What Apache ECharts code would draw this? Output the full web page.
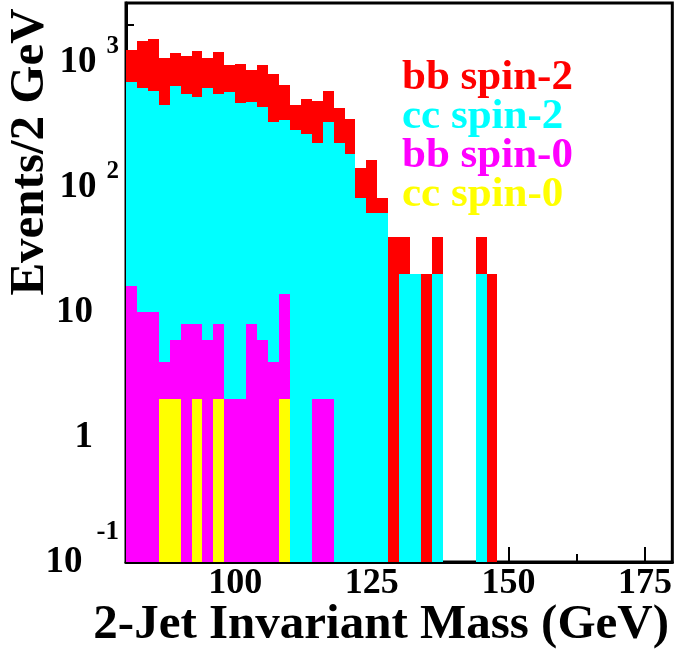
<!DOCTYPE html>
<html>
<head>
<meta charset="utf-8">
<title>2-Jet Invariant Mass</title>
<script src="https://cdn.jsdelivr.net/npm/echarts@6/dist/echarts.min.js"></script>
<style>
html, body { margin: 0; padding: 0; background: #fff; }
#main { width: 675px; height: 653px; }
</style>
</head>
<body>
<div id="main"></div>
<script>
// bins are 2 GeV wide starting at 80 GeV (50 bins up to 180)
var binStart = 80;
var binWidth = 2;

// heights of the drawn (stacked) histograms
// red = bb spin-2 on top of everything below it
var bbSpin2 = [1240, 1460, 1540, 1080, 1170, 1110, 1230, 1070, 1200, 940,
               970, 870, 940, 800, 650, 450, 510, 490, 590, 430,
               350, 143, 164, 82, 40, 40, 20, 20, 40, 0,
               0, 0, 40, 20, 0, 0, 0, 0, 0, 0,
               0, 0, 0, 0, 0, 0, 0, 0, 0, 0];
var ccSpin2 = [690, 624, 586, 456, 640, 559, 522, 620, 559, 575,
               473, 479, 437, 333, 342, 288, 267, 226, 330, 225,
               185, 82, 62, 62, 0, 20, 20, 0, 20, 0,
               0, 0, 20, 0, 0, 0, 0, 0, 0, 0,
               0, 0, 0, 0, 0, 0, 0, 0, 0, 0];
var bbSpin0 = [16, 10, 10, 4, 6, 8, 8, 6, 8, 2,
               2, 8, 6, 4, 14, 0, 0, 2, 2, 0,
               0, 0, 0, 0, 0, 0, 0, 0, 0, 0,
               0, 0, 0, 0, 0, 0, 0, 0, 0, 0,
               0, 0, 0, 0, 0, 0, 0, 0, 0, 0];
var ccSpin0 = [0, 0, 0, 2, 2, 0, 2, 0, 2, 0,
               0, 0, 0, 0, 2, 0, 0, 0, 0, 0,
               0, 0, 0, 0, 0, 0, 0, 0, 0, 0,
               0, 0, 0, 0, 0, 0, 0, 0, 0, 0,
               0, 0, 0, 0, 0, 0, 0, 0, 0, 0];

var seriesNames = ['bb spin-2', 'cc spin-2', 'bb spin-0', 'cc spin-0'];
var seriesColors = ['#ff0000', '#00ffff', '#ff00ff', '#ffff00'];

var xTicks = [100, 125, 150, 175];
var xMinorTicks = [87.5, 112.5, 137.5, 162.5];
var yDecades = [0.1, 1, 10, 100, 1000];
var yMinorTicks = [0.2, 0.3, 0.4, 0.5, 0.6, 0.7, 0.8, 0.9,
                   2, 3, 4, 5, 6, 7, 8, 9,
                   20, 30, 40, 50, 60, 70, 80, 90,
                   200, 300, 400, 500, 600, 700, 800, 900, 2000];

var yMin = 0.1;
var yMax = 2965;
var serif = '"Liberation Serif", "Times New Roman", serif';

function toBins(arr) {
    var out = [];
    arr.forEach(function (v, i) {
        if (v > 0) out.push([binStart + i * binWidth, binStart + (i + 1) * binWidth, v]);
    });
    return out;
}

function makeRender(color) {
    return function (params, api) {
        var top = api.coord([api.value(0), api.value(2)]);
        var bot = api.coord([api.value(1), yMin]);
        var x0 = Math.round(top[0]), x1 = Math.round(bot[0]);
        var y0 = Math.round(top[1]), y1 = Math.round(bot[1]);
        return {
            type: 'rect',
            shape: { x: x0, y: y0, width: x1 - x0, height: y1 - y0 },
            style: { fill: color }
        };
    };
}

var myChart = echarts.init(document.getElementById('main'));

var series = [bbSpin2, ccSpin2, bbSpin0, ccSpin0].map(function (arr, k) {
    return {
        name: seriesNames[k],
        type: 'custom',
        xAxisIndex: 0,
        yAxisIndex: 0,
        renderItem: makeRender(seriesColors[k]),
        encode: { x: [0, 1], y: 2 },
        data: toBins(arr),
        z: 2 + k
    };
});

var legendTexts = seriesNames.map(function (name, k) {
    return {
        type: 'text',
        left: 402,
        top: 56 + k * 39,
        z: 100,
        style: {
            text: name,
            fill: seriesColors[k],
            font: 'bold 43px ' + serif
        }
    };
});

var option = {
    animation: false,
    backgroundColor: '#fff',
    grid: {
        left: 126, right: 2, top: 3, bottom: 91,
        show: true, borderColor: '#000', borderWidth: 3
    },
    xAxis: [{
        type: 'value', min: 80, max: 180,
        axisLine: { lineStyle: { color: '#000', width: 3 } },
        axisTick: { inside: true, length: 15, customValues: xTicks, lineStyle: { color: '#000', width: 2 } },
        axisLabel: {
            customValues: xTicks, margin: 4,
            color: '#000', fontFamily: serif, fontWeight: 'bold', fontSize: 36
        },
        splitLine: { show: false }
    }, {
        type: 'value', min: 80, max: 180, position: 'bottom',
        axisLine: { show: false },
        axisTick: { inside: true, length: 8, customValues: xMinorTicks, lineStyle: { color: '#000', width: 2 } },
        axisLabel: { show: false },
        splitLine: { show: false }
    }],
    yAxis: [{
        type: 'log', logBase: 10, min: yMin, max: yMax,
        axisLine: { lineStyle: { color: '#000', width: 3 } },
        axisTick: { inside: true, length: 15, customValues: yDecades, lineStyle: { color: '#000', width: 2 } },
        axisLabel: {
            customValues: yDecades, margin: 7,
            formatter: function (v) {
                var e = Math.round(Math.log(v) / Math.LN10);
                if (e === 0) return '{b|1}{p| }';
                if (e === 1) return '{b|10}{p| }';
                if (e < 0) return '{b|10}{n|' + e + '}';
                return '{b|10}{s|' + e + '}';
            },
            rich: {
                b: { fontFamily: serif, fontWeight: 'bold', fontSize: 37, color: '#000' },
                s: { fontFamily: serif, fontWeight: 'bold', fontSize: 25, color: '#000', padding: [0, 0, 30, 10] },
                n: { fontFamily: serif, fontWeight: 'bold', fontSize: 27, color: '#000', padding: [0, 0, 60, 14] },
                p: { fontSize: 22, width: 26 }
            }
        },
        splitLine: { show: false }
    }, {
        type: 'log', logBase: 10, min: yMin, max: yMax, position: 'left',
        axisLine: { show: false },
        axisTick: { inside: true, length: 8, customValues: yMinorTicks, lineStyle: { color: '#000', width: 2 } },
        axisLabel: { show: false },
        splitLine: { show: false }
    }],
    graphic: legendTexts.concat([{
        type: 'text',
        x: 30, y: 152,
        rotation: Math.PI / 2,
        style: {
            text: 'Events/2 GeV',
            fill: '#000',
            font: 'bold 49px ' + serif,
            textAlign: 'center',
            textVerticalAlign: 'middle'
        }
    }, {
        type: 'text',
        x: 669, y: 625,
        style: {
            text: '2-Jet Invariant Mass (GeV)',
            fill: '#000',
            font: 'bold 49px ' + serif,
            textAlign: 'right',
            textVerticalAlign: 'middle'
        }
    }]),
    series: series
};

myChart.setOption(option);
</script>
</body>
</html>
